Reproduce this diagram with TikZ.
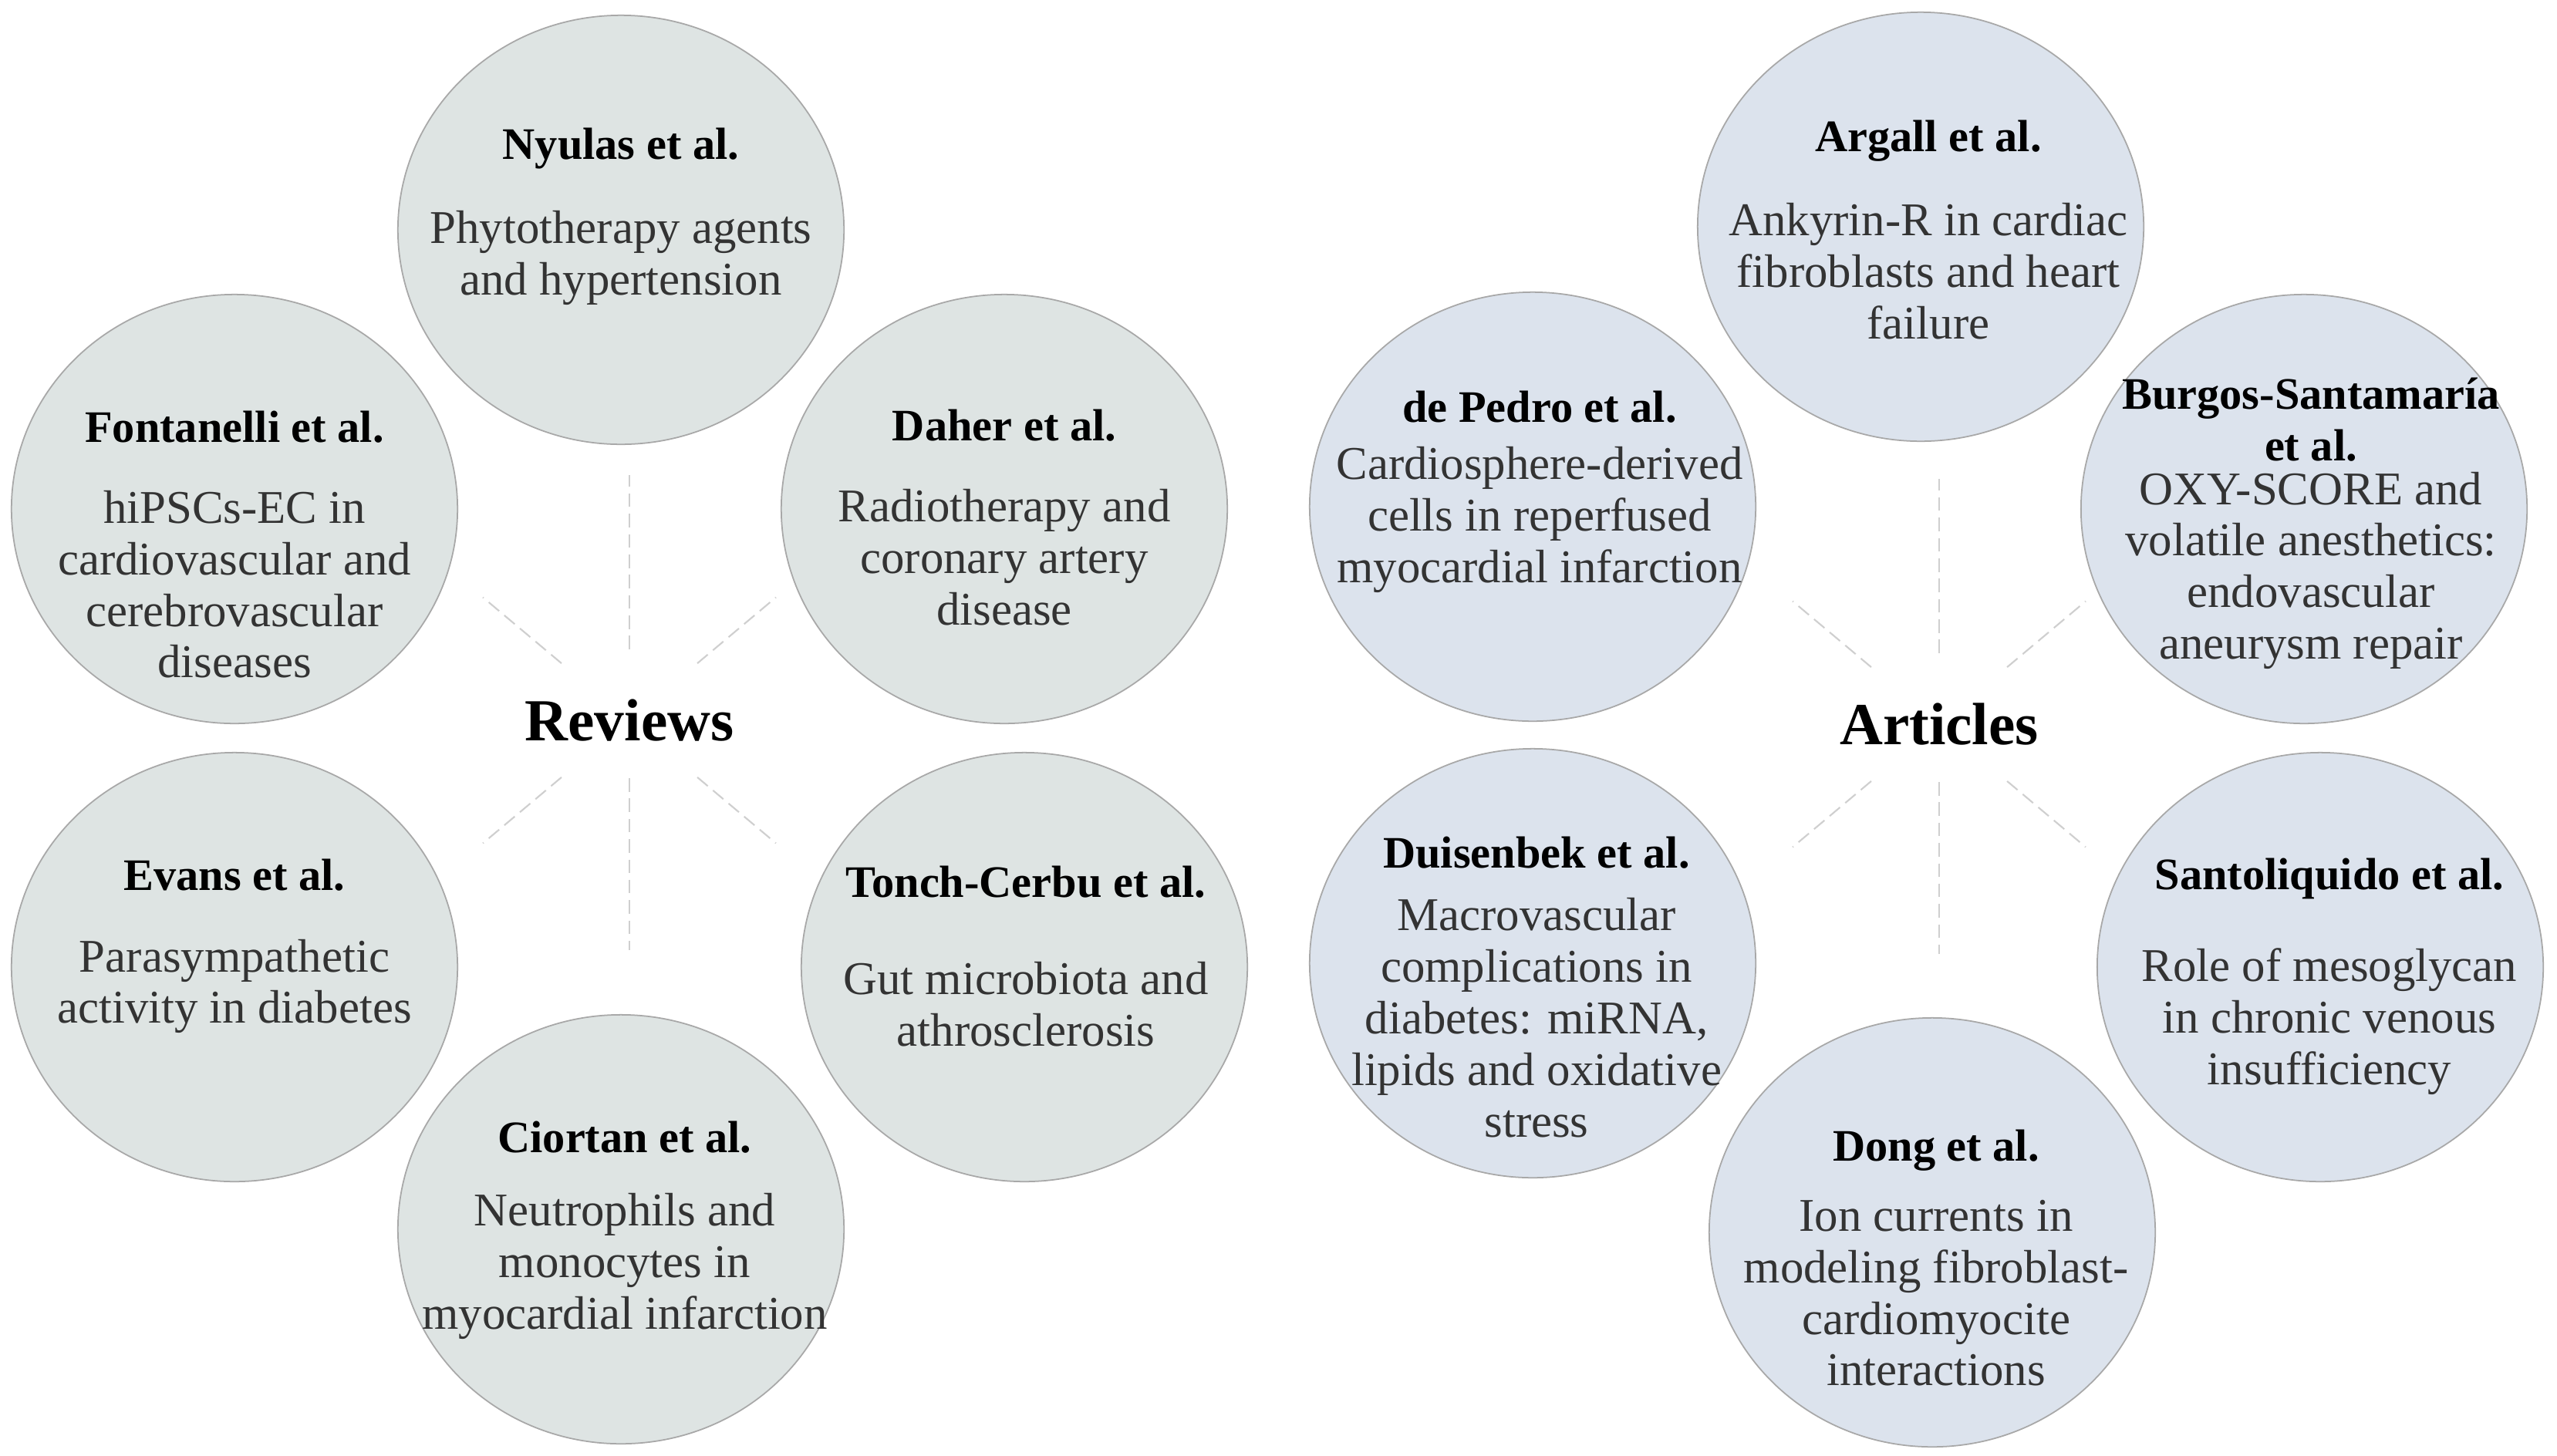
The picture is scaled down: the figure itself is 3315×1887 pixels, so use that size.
\documentclass[tikz,border=0pt]{standalone}
\usepackage{fontspec}
\setmainfont{Liberation Serif}
\usetikzlibrary{shapes.geometric}

\definecolor{revfill}{HTML}{DEE4E3}
\definecolor{artfill}{HTML}{DCE3ED}
\definecolor{rimgray}{HTML}{A8A8A8}
\definecolor{spokegray}{HTML}{CFCFCF}
\newcommand{\paperby}[1]{{\bfseries\fontsize{16.6}{19}\selectfont\color{black}#1}}

\begin{document}
\begin{tikzpicture}[x=0.01cm,y=-0.01cm,
  bubble/.style={ellipse,draw=rimgray,line width=0.5pt,minimum width=5.78cm,minimum height=5.56cm,inner sep=0pt},
  revbubble/.style={bubble,fill=revfill},
  artbubble/.style={bubble,fill=artfill},
  txt/.style={align=center,inner sep=0pt,text=black!80,font=\fontsize{17.3}{19}\selectfont},
  head/.style={inner sep=0pt,font=\bfseries\fontsize{22}{26}\selectfont},
  spoke/.style={draw=spokegray,line width=0.6pt,dash pattern=on 5pt off 2.5pt}]
\useasboundingbox (0,0) rectangle (3315,1887);
\fill[white] (0,0) rectangle (3315,1887);

% reviews
\node[revbubble] (nyulas) at (805,298) {};
\node[revbubble] (fontanelli) at (304,660) {};
\node[revbubble] (daher) at (1302,660) {};
\node[revbubble] (evans) at (304,1254) {};
\node[revbubble] (tonch) at (1328,1254) {};
\node[revbubble] (ciortan) at (805,1594) {};

\node[txt] (nyulasT) at (805,281) {\paperby{Nyulas et al.}\\[12pt] Phytotherapy agents\\ and hypertension};
\node[txt] (fontanelliT) at (304,706) {\paperby{Fontanelli et al.}\\[11pt] hiPSCs-EC in\\ cardiovascular and\\ cerebrovascular\\ diseases};
\node[txt] (daherT) at (1302,671) {\paperby{Daher et al.}\\[11pt] Radiotherapy and\\ coronary artery\\ disease};
\node[txt] (evansT) at (304,1227) {\paperby{Evans et al.}\\[11pt] Parasympathetic\\ activity in diabetes};
\node[txt] (tonchT) at (1330,1240) {\paperby{Tonch-Cerbu et al.}\\[17pt] Gut microbiota and\\ athrosclerosis};
\node[txt] (ciortanT) at (810,1595) {\paperby{Ciortan et al.}\\[8pt] Neutrophils and\\ monocytes in\\ myocardial infarction};

\node[head] (rev) at (816,934) {Reviews};
\draw[spoke] ([shift={(270:92)}]rev.center) -- ([shift={(270:318)}]rev.center);
\draw[spoke] ([shift={(90:75)}]rev.center) -- ([shift={(90:298)}]rev.center);
\draw[spoke] ([shift={(220:115)}]rev.center) -- ([shift={(220:248)}]rev.center);
\draw[spoke] ([shift={(320:115)}]rev.center) -- ([shift={(320:248)}]rev.center);
\draw[spoke] ([shift={(140:115)}]rev.center) -- ([shift={(140:248)}]rev.center);
\draw[spoke] ([shift={(40:115)}]rev.center) -- ([shift={(40:248)}]rev.center);

% articles
\node[artbubble] (argall) at (2490,294) {};
\node[artbubble] (depedro) at (1987,657) {};
\node[artbubble] (burgos) at (2987,660) {};
\node[artbubble] (duisenbek) at (1987,1249) {};
\node[artbubble] (santoliquido) at (3008,1254) {};
\node[artbubble] (dong) at (2505,1598) {};

\node[txt] (argallT) at (2500,298) {\paperby{Argall et al.}\\[12pt] Ankyrin-R in cardiac\\ fibroblasts and heart\\ failure};
\node[txt] (depedroT) at (1996,638) {\paperby{de Pedro et al.}\\[2pt] Cardiosphere-derived\\ cells in reperfused\\ myocardial infarction};
\node[txt] (burgosT) at (2996,679) {\paperby{Burgos-Santamaría}\\ \paperby{et al.}\\[-3pt] OXY-SCORE and\\ volatile anesthetics:\\ endovascular\\ aneurysm repair};
\node[txt] (duisenbekT) at (1992,1280) {\paperby{Duisenbek et al.}\\[4pt] Macrovascular\\ complications in\\ diabetes: miRNA,\\ lipids and oxidative\\ stress};
\node[txt] (santoliquidoT) at (3020,1266) {\paperby{Santoliquido et al.}\\[15pt] Role of mesoglycan\\ in chronic venous\\ insufficiency};
\node[txt] (dongT) at (2510,1631) {\paperby{Dong et al.}\\[7pt] Ion currents in\\ modeling fibroblast-\\ cardiomyocite\\ interactions};

\node[head] (art) at (2514,939) {Articles};
\draw[spoke] ([shift={(270:92)}]art.center) -- ([shift={(270:318)}]art.center);
\draw[spoke] ([shift={(90:75)}]art.center) -- ([shift={(90:298)}]art.center);
\draw[spoke] ([shift={(220:115)}]art.center) -- ([shift={(220:248)}]art.center);
\draw[spoke] ([shift={(320:115)}]art.center) -- ([shift={(320:248)}]art.center);
\draw[spoke] ([shift={(140:115)}]art.center) -- ([shift={(140:248)}]art.center);
\draw[spoke] ([shift={(40:115)}]art.center) -- ([shift={(40:248)}]art.center);
\end{tikzpicture}
\end{document}
